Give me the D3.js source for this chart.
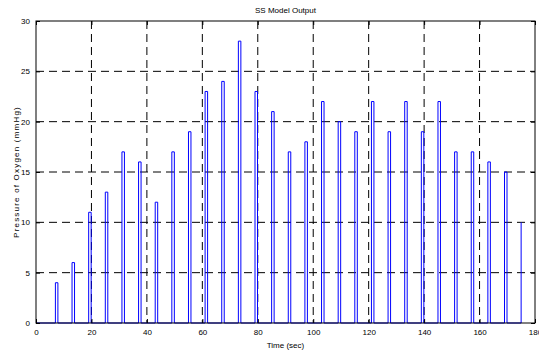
<!DOCTYPE html>
<html><head><meta charset="utf-8">
<script src="https://cdn.jsdelivr.net/npm/d3@7"></script>
<style>body{margin:0;background:#fff;} svg{display:block;}</style>
</head><body>
<svg id="c" width="539" height="355"></svg>
<script>
const pulseStarts = [7,13,19,25,31,37,43,49,55,61,67,73,79,85,91,97,103,109,115,121,127,133,139,145,151,157,163,169,175];
const pulseValues = [4,6,11,13,17,16,12,17,19,23,24,28,23,21,17,18,22,20,19,22,19,22,19,22,17,17,16,15,10];
const pulseWidth = 0.9;
const xTicks = [0,20,40,60,80,100,120,140,160,180];
const yTicks = [0,5,10,15,20,25,30];
const title = "SS Model Output";
const xLabel = "Time (sec)";
const yLabel = "Pressure of Oxygen (mmHg)";

const svg = d3.select("#c");
const L = 36, R = 535, T = 21, B = 323;
const x = d3.scaleLinear().domain([0,180]).range([L,R]);
const y = d3.scaleLinear().domain([0,30]).range([B,T]);
const font = "'Liberation Sans Narrow','Liberation Sans',Arial,sans-serif";

// grid
const g = svg.append("g");
xTicks.slice(1,-1).forEach(t=>{
  g.append("line").attr("x1",x(t)).attr("x2",x(t)).attr("y1",T).attr("y2",B)
   .attr("stroke","#000").attr("stroke-width",1).attr("stroke-dasharray","8,5");
});
yTicks.slice(1,-1).forEach(t=>{
  g.append("line").attr("x1",L).attr("x2",R).attr("y1",y(t)).attr("y2",y(t))
   .attr("stroke","#000").attr("stroke-width",1).attr("stroke-dasharray","8,5");
});

// signal
const pts = [[0,0]];
pulseStarts.forEach((s,i)=>{
  pts.push([s,0]); pts.push([s,pulseValues[i]]);
  if(i < pulseStarts.length-1){ pts.push([s+pulseWidth,pulseValues[i]]); pts.push([s+pulseWidth,0]); }
});
svg.append("path").attr("d", d3.line().x(d=>x(d[0])).y(d=>y(d[1]))(pts))
  .attr("fill","none").attr("stroke","#0000ff").attr("stroke-width",1);

// axes
const fs = "8px";
const xa = d3.axisBottom(x).tickValues(xTicks).tickSize(-4).tickPadding(6);
const xaT = d3.axisTop(x).tickValues(xTicks).tickSize(-4).tickFormat("");
const ya = d3.axisLeft(y).tickValues(yTicks).tickSize(-4).tickPadding(6);
const yaR = d3.axisRight(y).tickValues(yTicks).tickSize(-4).tickFormat("");
[ [xa,`translate(0,${B})`], [xaT,`translate(0,${T})`], [ya,`translate(${L},0)`], [yaR,`translate(${R},0)`] ].forEach(([a,tr])=>{
  const ag = svg.append("g").attr("transform",tr).call(a);
  ag.select(".domain").remove();
  ag.selectAll("line").attr("stroke","#000");
  ag.selectAll("text").attr("font-family",font).attr("font-size",fs).attr("fill","#000");
});
svg.append("rect").attr("x",L).attr("y",T).attr("width",R-L).attr("height",B-T)
  .attr("fill","none").attr("stroke","#000").attr("stroke-width",1);

svg.append("text").attr("x",(L+R)/2).attr("y",13).attr("text-anchor","middle")
  .attr("font-family",font).attr("font-size","8px").text(title);
svg.append("text").attr("x",(L+R)/2).attr("y",348).attr("text-anchor","middle")
  .attr("font-family",font).attr("font-size","8px").text(xLabel);
svg.append("text").attr("transform",`translate(19,${(T+B)/2}) rotate(-90)`).attr("text-anchor","middle")
  .attr("font-family",font).attr("font-size","8px").attr("letter-spacing","1.2px").text(yLabel);
</script>
</body></html>
